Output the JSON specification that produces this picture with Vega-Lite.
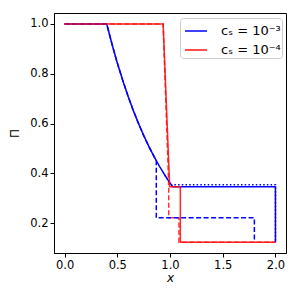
{
  "$schema": "https://vega.github.io/schema/vega-lite/v6.json",
  "width": 232,
  "height": 240,
  "autosize": "none",
  "padding": {"left": 54, "top": 13, "right": 14, "bottom": 47},
  "data": {"values": [
    {"s":"b_solid","c":"cₛ = 10⁻³","d":"solid","o":0,"x":0,"y":1},
    {"s":"b_solid","c":"cₛ = 10⁻³","d":"solid","o":1,"x":0.4,"y":1},
    {"s":"b_solid","c":"cₛ = 10⁻³","d":"solid","o":2,"x":0.45,"y":0.919},
    {"s":"b_solid","c":"cₛ = 10⁻³","d":"solid","o":3,"x":0.5,"y":0.844},
    {"s":"b_solid","c":"cₛ = 10⁻³","d":"solid","o":4,"x":0.55,"y":0.776},
    {"s":"b_solid","c":"cₛ = 10⁻³","d":"solid","o":5,"x":0.6,"y":0.713},
    {"s":"b_solid","c":"cₛ = 10⁻³","d":"solid","o":6,"x":0.65,"y":0.655},
    {"s":"b_solid","c":"cₛ = 10⁻³","d":"solid","o":7,"x":0.7,"y":0.602},
    {"s":"b_solid","c":"cₛ = 10⁻³","d":"solid","o":8,"x":0.75,"y":0.553},
    {"s":"b_solid","c":"cₛ = 10⁻³","d":"solid","o":9,"x":0.8,"y":0.508},
    {"s":"b_solid","c":"cₛ = 10⁻³","d":"solid","o":10,"x":0.85,"y":0.467},
    {"s":"b_solid","c":"cₛ = 10⁻³","d":"solid","o":11,"x":0.9,"y":0.429},
    {"s":"b_solid","c":"cₛ = 10⁻³","d":"solid","o":12,"x":0.95,"y":0.394},
    {"s":"b_solid","c":"cₛ = 10⁻³","d":"solid","o":13,"x":1.0,"y":0.362},
    {"s":"b_solid","c":"cₛ = 10⁻³","d":"solid","o":14,"x":1.013,"y":0.355},
    {"s":"b_solid","c":"cₛ = 10⁻³","d":"solid","o":15,"x":1.025,"y":0.347},
    {"s":"b_solid","c":"cₛ = 10⁻³","d":"solid","o":16,"x":2.0,"y":0.347},
    {"s":"b_solid","c":"cₛ = 10⁻³","d":"solid","o":17,"x":2.0,"y":0.124},

    {"s":"b_dash","c":"cₛ = 10⁻³","d":"dash","o":0,"x":0,"y":1},
    {"s":"b_dash","c":"cₛ = 10⁻³","d":"dash","o":1,"x":0.4,"y":1},
    {"s":"b_dash","c":"cₛ = 10⁻³","d":"dash","o":2,"x":0.45,"y":0.919},
    {"s":"b_dash","c":"cₛ = 10⁻³","d":"dash","o":3,"x":0.5,"y":0.844},
    {"s":"b_dash","c":"cₛ = 10⁻³","d":"dash","o":4,"x":0.55,"y":0.776},
    {"s":"b_dash","c":"cₛ = 10⁻³","d":"dash","o":5,"x":0.6,"y":0.713},
    {"s":"b_dash","c":"cₛ = 10⁻³","d":"dash","o":6,"x":0.65,"y":0.655},
    {"s":"b_dash","c":"cₛ = 10⁻³","d":"dash","o":7,"x":0.7,"y":0.602},
    {"s":"b_dash","c":"cₛ = 10⁻³","d":"dash","o":8,"x":0.75,"y":0.553},
    {"s":"b_dash","c":"cₛ = 10⁻³","d":"dash","o":9,"x":0.8,"y":0.508},
    {"s":"b_dash","c":"cₛ = 10⁻³","d":"dash","o":10,"x":0.85,"y":0.467},
    {"s":"b_dash","c":"cₛ = 10⁻³","d":"dash","o":11,"x":0.87,"y":0.452},
    {"s":"b_dash","c":"cₛ = 10⁻³","d":"dash","o":12,"x":0.87,"y":0.222},
    {"s":"b_dash","c":"cₛ = 10⁻³","d":"dash","o":13,"x":1.8,"y":0.222},
    {"s":"b_dash","c":"cₛ = 10⁻³","d":"dash","o":14,"x":1.8,"y":0.124},

    {"s":"b_dot","c":"cₛ = 10⁻³","d":"dot","o":0,"x":0.95,"y":0.394},
    {"s":"b_dot","c":"cₛ = 10⁻³","d":"dot","o":1,"x":1.0,"y":0.362},
    {"s":"b_dot","c":"cₛ = 10⁻³","d":"dot","o":2,"x":1.013,"y":0.355},
    {"s":"b_dot","c":"cₛ = 10⁻³","d":"dot","o":3,"x":2.0,"y":0.355},
    {"s":"b_dot","c":"cₛ = 10⁻³","d":"dot","o":4,"x":2.0,"y":0.124},

    {"s":"r_dash","c":"cₛ = 10⁻⁴","d":"dash","o":0,"x":0,"y":1},
    {"s":"r_dash","c":"cₛ = 10⁻⁴","d":"dash","o":1,"x":0.935,"y":1},
    {"s":"r_dash","c":"cₛ = 10⁻⁴","d":"dash","o":2,"x":0.988,"y":0.35},
    {"s":"r_dash","c":"cₛ = 10⁻⁴","d":"dash","o":3,"x":0.988,"y":0.222},
    {"s":"r_dash","c":"cₛ = 10⁻⁴","d":"dash","o":4,"x":1.085,"y":0.222},
    {"s":"r_dash","c":"cₛ = 10⁻⁴","d":"dash","o":5,"x":1.085,"y":0.124},
    {"s":"r_dash","c":"cₛ = 10⁻⁴","d":"dash","o":6,"x":2.0,"y":0.124},

    {"s":"r_solid","c":"cₛ = 10⁻⁴","d":"solid","o":0,"x":0,"y":1},
    {"s":"r_solid","c":"cₛ = 10⁻⁴","d":"solid","o":1,"x":0.935,"y":1},
    {"s":"r_solid","c":"cₛ = 10⁻⁴","d":"solid","o":2,"x":0.997,"y":0.347},
    {"s":"r_solid","c":"cₛ = 10⁻⁴","d":"solid","o":3,"x":1.098,"y":0.347},
    {"s":"r_solid","c":"cₛ = 10⁻⁴","d":"solid","o":4,"x":1.098,"y":0.124},
    {"s":"r_solid","c":"cₛ = 10⁻⁴","d":"solid","o":5,"x":2.0,"y":0.124}
  ]},
  "encoding": {
    "x": {"field": "x", "type": "quantitative",
      "scale": {"domain": [-0.1, 2.1], "nice": false, "zero": false},
      "axis": {"values": [0, 0.5, 1, 1.5, 2], "format": ".1f", "title": "x", "titleFontStyle": "italic", "titlePadding": 2}},
    "y": {"field": "y", "type": "quantitative",
      "scale": {"domain": [0.081, 1.044], "nice": false, "zero": false},
      "axis": {"values": [0.2, 0.4, 0.6, 0.8, 1.0], "format": ".1f", "title": "Π", "titleX": -40, "titleY": 120, "titleAngle": -90, "titleAlign": "center", "titleBaseline": "middle"}},
    "color": {"field": "c", "type": "nominal",
      "scale": {"domain": ["cₛ = 10⁻³", "cₛ = 10⁻⁴"], "range": ["#0000ff", "#ff1010"]},
      "legend": {"orient": "none", "legendX": 126, "legendY": 5, "title": null,
        "fillColor": "rgba(255,255,255,0.8)", "strokeColor": "#cccccc", "cornerRadius": 3,
        "padding": 1, "symbolType": "stroke", "symbolSize": 484, "symbolStrokeWidth": 1.5, "symbolOffset": 3,
        "labelFontSize": 13, "labelOffset": 13, "rowPadding": 0}},
    "strokeDash": {"field": "d", "type": "nominal",
      "scale": {"domain": ["solid", "dash", "dot"], "range": [[1, 0], [5, 2.5], [1.5, 2.2]]},
      "legend": null},
    "detail": {"field": "s"},
    "order": {"field": "o", "type": "quantitative"}
  },
  "layer": [
    {"transform": [{"filter": "datum.s == 'r_dash'"}], "mark": {"type": "line", "strokeWidth": 1.5, "strokeOpacity": 0.85}},
    {"transform": [{"filter": "datum.s == 'b_solid' || datum.s == 'b_dash' || datum.s == 'b_dot'"}], "mark": {"type": "line", "strokeWidth": 1.5}},
    {"transform": [{"filter": "datum.s == 'r_solid'"}], "mark": {"type": "line", "strokeWidth": 1.5, "strokeOpacity": 0.9}}
  ],
  "config": {
    "font": "DejaVu Sans",
    "view": {"stroke": "#000000", "strokeWidth": 1},
    "axis": {"grid": false, "domainColor": "#000000", "tickColor": "#000000", "labelColor": "#000000", "titleColor": "#000000",
      "labelFontSize": 11.5, "titleFontSize": 12, "titleFontWeight": "normal", "tickSize": 4, "labelPadding": 2, "labelFlush": false}
  }
}
